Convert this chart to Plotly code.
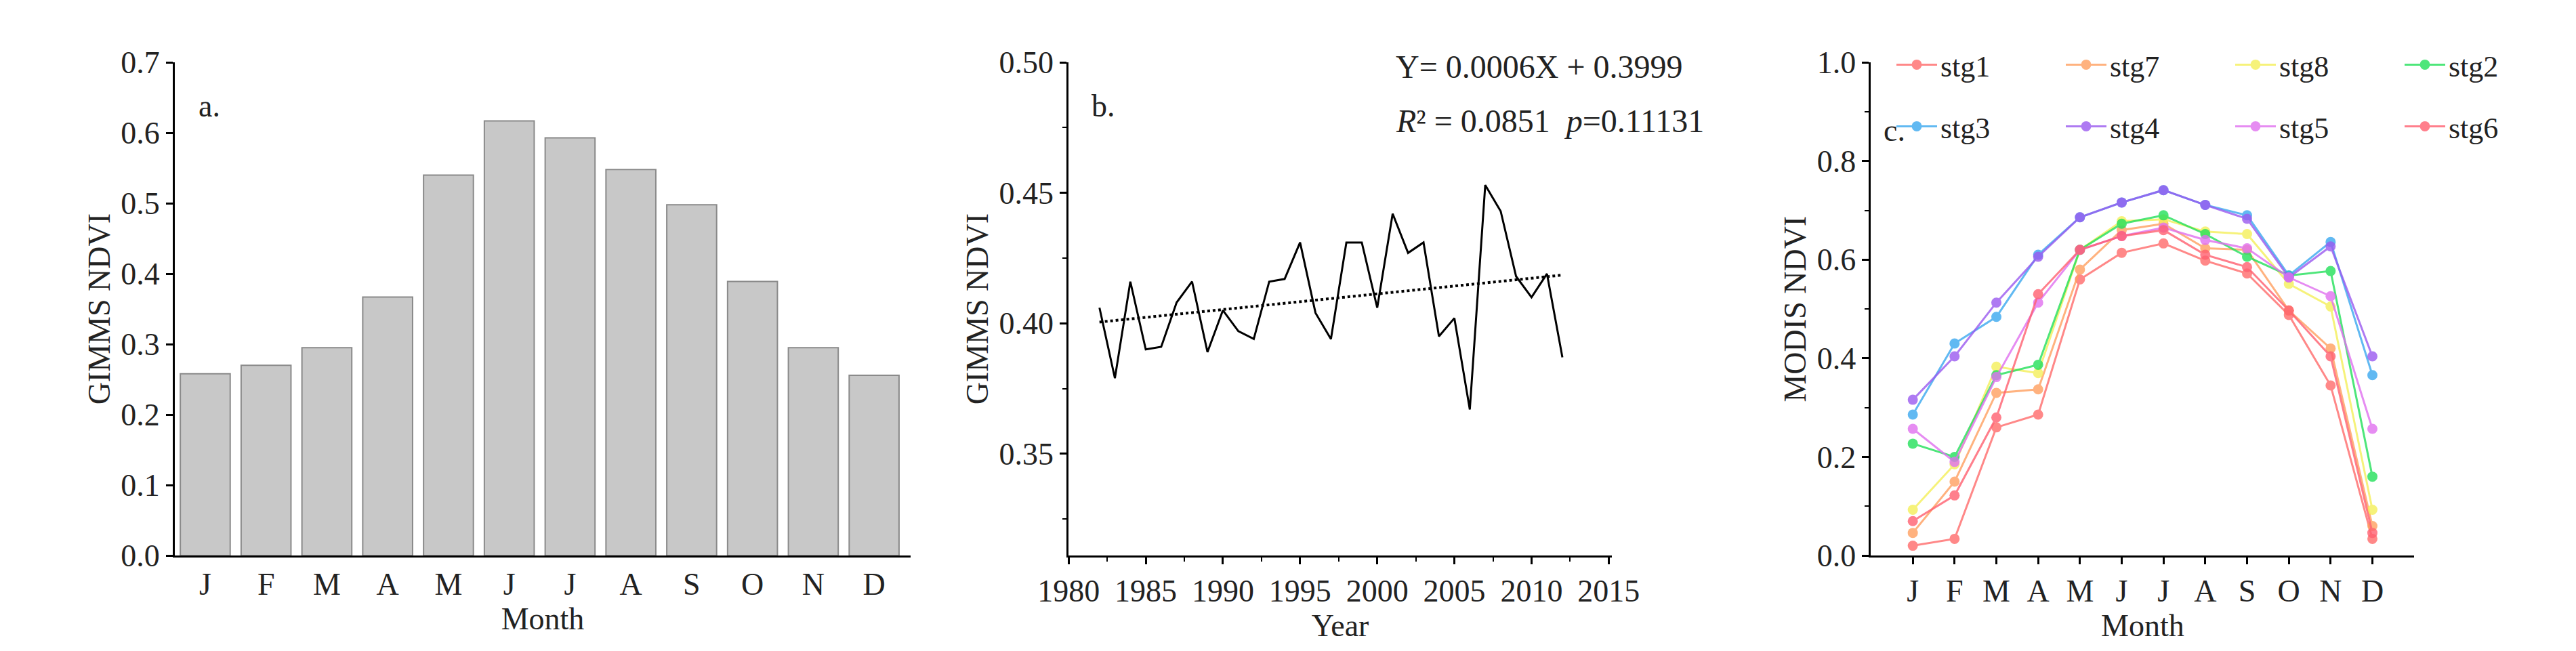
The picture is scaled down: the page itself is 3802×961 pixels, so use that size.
import plotly.graph_objects as go

months = ["J", "F", "M", "A", "M", "J", "J", "A", "S", "O", "N", "D"]
month_idx = list(range(12))

# panel a: monthly mean GIMMS NDVI
gimms_monthly = [0.258, 0.270, 0.295, 0.367, 0.540, 0.617, 0.593, 0.548, 0.498, 0.389, 0.295, 0.256]

# panel b: annual GIMMS NDVI 1982-2012
years = list(range(1982, 2013))
gimms_annual = [0.406, 0.379, 0.416, 0.390, 0.391, 0.408, 0.416, 0.389, 0.405, 0.397,
                0.394, 0.416, 0.417, 0.431, 0.404, 0.394, 0.431, 0.431, 0.406, 0.442,
                0.427, 0.431, 0.395, 0.402, 0.367, 0.453, 0.443, 0.418, 0.410, 0.419, 0.387]
trend_years = [1982, 2012]
trend_vals = [0.4005, 0.4185]

# panel c: MODIS NDVI by stage
stages = {
    "stg1": [0.020, 0.034, 0.260, 0.286, 0.560, 0.614, 0.633, 0.598, 0.572, 0.488, 0.345, 0.034],
    "stg7": [0.046, 0.150, 0.330, 0.337, 0.580, 0.660, 0.673, 0.623, 0.620, 0.497, 0.420, 0.060],
    "stg8": [0.093, 0.185, 0.383, 0.370, 0.620, 0.678, 0.682, 0.657, 0.652, 0.551, 0.505, 0.093],
    "stg2": [0.227, 0.200, 0.366, 0.387, 0.620, 0.673, 0.690, 0.652, 0.606, 0.568, 0.577, 0.160],
    "stg3": [0.286, 0.430, 0.484, 0.610, 0.686, 0.716, 0.741, 0.711, 0.690, 0.568, 0.636, 0.366],
    "stg4": [0.316, 0.404, 0.513, 0.606, 0.686, 0.716, 0.741, 0.711, 0.683, 0.564, 0.627, 0.404],
    "stg5": [0.257, 0.190, 0.362, 0.513, 0.620, 0.648, 0.665, 0.640, 0.623, 0.564, 0.526, 0.257],
    "stg6": [0.070, 0.122, 0.280, 0.530, 0.620, 0.648, 0.660, 0.610, 0.585, 0.497, 0.404, 0.046],
}
stage_colors = {
    "stg1": "#ff6b6b", "stg7": "#ffa060", "stg8": "#f5f05a", "stg2": "#22e05a",
    "stg3": "#3aa8f0", "stg4": "#9a5af0", "stg5": "#e070f0", "stg6": "#ff6070",
}
legend_row = {"stg1": "legend", "stg7": "legend", "stg8": "legend", "stg2": "legend",
              "stg3": "legend2", "stg4": "legend2", "stg5": "legend2", "stg6": "legend2"}

FONT = "Liberation Serif"
fig = go.Figure()

fig.add_trace(go.Bar(
    x=month_idx, y=gimms_monthly, width=0.82,
    marker=dict(color="#c8c8c8", line=dict(color="#8a8a8a", width=2)),
    xaxis="x", yaxis="y", showlegend=False,
))

fig.add_trace(go.Scatter(
    x=years, y=gimms_annual, mode="lines", line=dict(color="black", width=3),
    xaxis="x2", yaxis="y2", showlegend=False,
))
fig.add_trace(go.Scatter(
    x=trend_years, y=trend_vals, mode="lines", line=dict(color="black", width=4, dash="dot"),
    xaxis="x2", yaxis="y2", showlegend=False,
))

for name, vals in stages.items():
    fig.add_trace(go.Scatter(
        x=month_idx, y=vals, mode="lines+markers", name=name,
        line=dict(color=stage_colors[name], width=3),
        marker=dict(color=stage_colors[name], size=15),
        opacity=0.8, xaxis="x3", yaxis="y3", legend=legend_row[name],
    ))

ax = dict(showline=True, linecolor="black", linewidth=3, ticks="outside", tickwidth=3,
          ticklen=10, tickcolor="black", showgrid=False, zeroline=False,
          tickfont=dict(family=FONT, size=46, color="#222"),
          title_font=dict(family=FONT, size=46, color="#222"), title_standoff=2)
minor = dict(ticks="outside", ticklen=6, tickwidth=2, tickcolor="black", showgrid=False)
leg = dict(orientation="h", x=0.752, xanchor="left", yanchor="top",
           entrywidth=175, entrywidthmode="pixels", bgcolor="rgba(0,0,0,0)",
           font=dict(family=FONT, size=44, color="#222"), itemwidth=60)

fig.update_layout(
    height=961, autosize=True, plot_bgcolor="white", paper_bgcolor="white",
    margin=dict(l=0, r=0, t=0, b=0),
    xaxis=dict(ax, domain=[0.056, 0.354], range=[-0.5, 11.6], tickvals=month_idx,
               ticktext=months, anchor="y", title_text="Month", ticks=""),
    yaxis=dict(ax, domain=[0.135, 0.935], range=[0, 0.7], dtick=0.1, tickformat=".1f",
               anchor="x", title_text="GIMMS NDVI"),
    xaxis2=dict(ax, domain=[0.418, 0.638], range=[1980, 2015.2], dtick=5, anchor="y2",
                minor=dict(minor, dtick=2.5), title_text="Year"),
    yaxis2=dict(ax, domain=[0.135, 0.935], range=[0.311, 0.5], tickvals=[0.35, 0.40, 0.45, 0.50],
                tickformat=".2f", minor=dict(minor, dtick=0.025), anchor="x2",
                title_text="GIMMS NDVI"),
    xaxis3=dict(ax, domain=[0.743, 0.963], range=[-1, 12], tickvals=month_idx,
                ticktext=months, anchor="y3", title_text="Month"),
    yaxis3=dict(ax, domain=[0.135, 0.935], range=[0, 1.0], dtick=0.2, tickformat=".1f",
                minor=dict(minor, dtick=0.1), anchor="x3", title_text="MODIS NDVI"),
    legend=dict(leg, y=0.97),
    legend2=dict(leg, y=0.87),
)

fig.add_annotation(text="a.", xref="x domain", yref="y domain", x=0.03, y=0.95,
                   showarrow=False, xanchor="left", font=dict(family=FONT, size=46, color="#222"))
fig.add_annotation(text="b.", xref="x2 domain", yref="y2 domain", x=0.04, y=0.95,
                   showarrow=False, xanchor="left", font=dict(family=FONT, size=46, color="#222"))
fig.add_annotation(text="c.", xref="x3 domain", yref="y3 domain", x=0.02, y=0.9,
                   showarrow=False, xanchor="left", font=dict(family=FONT, size=46, color="#222"))
fig.add_annotation(text="Y= 0.0006X + 0.3999", xref="x2 domain", yref="y2 domain",
                   x=0.6, y=1.03, showarrow=False, xanchor="left",
                   font=dict(family=FONT, size=48, color="#222"))
fig.add_annotation(text="<i>R</i>² = 0.0851  <i>p</i>=0.11131", xref="x2 domain", yref="y2 domain",
                   x=0.6, y=0.92, showarrow=False, xanchor="left",
                   font=dict(family=FONT, size=48, color="#222"))

fig.write_html("out.html")
